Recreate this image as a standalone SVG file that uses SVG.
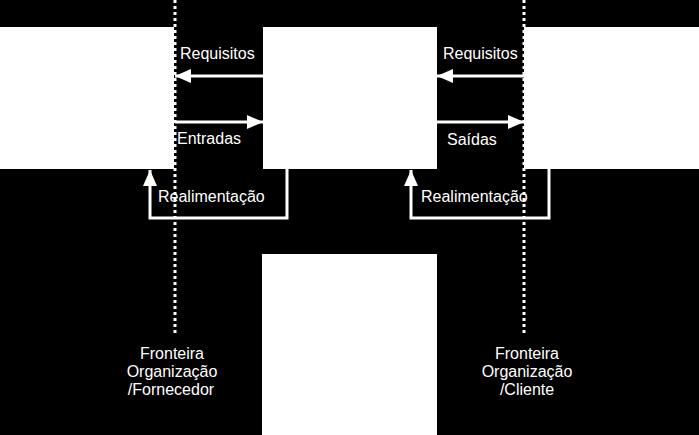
<svg xmlns="http://www.w3.org/2000/svg" width="699" height="435" viewBox="0 0 699 435">
<style>
.box{fill:#fff;stroke:none}
.ln{fill:none;stroke:#fff;stroke-width:3}
.dot{fill:none;stroke:#fff;stroke-width:3;stroke-dasharray:3 3}
.t{font-family:"Liberation Sans",Arial,sans-serif;font-size:16px;fill:#fff}
.c{text-anchor:middle}
</style>
<defs>
<marker id="ah" markerUnits="userSpaceOnUse" markerWidth="16" markerHeight="14" refX="16" refY="7" orient="auto">
<path d="M0,0 L16,7 L0,14 Z" fill="#fff"/>
</marker>
</defs>
<rect width="699" height="435" fill="#000"/>
<g id="fornecedor"><rect class="box" x="0" y="27" width="174" height="142"/></g>
<g id="organizacao"><rect class="box" x="263" y="27" width="174" height="142"/></g>
<g id="cliente"><rect class="box" x="524" y="27" width="175" height="142"/></g>
<g id="inferior"><rect class="box" x="262" y="254" width="175" height="181"/></g>
<g id="connectors">
<path class="dot" d="M175,0 V336"/>
<path class="dot" d="M524,0 V336"/>
<path class="ln" d="M263,76 H175" marker-end="url(#ah)"/>
<path class="ln" d="M175,122 H263" marker-end="url(#ah)"/>
<path class="ln" d="M287,169 V218 H150 V170" marker-end="url(#ah)"/>
<path class="ln" d="M524,76 H437" marker-end="url(#ah)"/>
<path class="ln" d="M437,122 H524" marker-end="url(#ah)"/>
<path class="ln" d="M549,169 V218 H411 V170" marker-end="url(#ah)"/>
</g>
<g id="labels">
<text class="t" x="180" y="59">Requisitos</text>
<text class="t" x="177" y="144">Entradas</text>
<text class="t" x="158" y="202">Realimentação</text>
<text class="t" x="443" y="59">Requisitos</text>
<text class="t" x="447" y="145">Saídas</text>
<text class="t" x="421" y="202">Realimentação</text>
<text class="t c" x="172" y="359">Fronteira</text>
<text class="t c" x="172" y="377">Organização</text>
<text class="t c" x="171" y="395">/Fornecedor</text>
<text class="t c" x="527" y="359">Fronteira</text>
<text class="t c" x="527" y="377">Organização</text>
<text class="t c" x="527" y="395">/Cliente</text>
</g>
</svg>
